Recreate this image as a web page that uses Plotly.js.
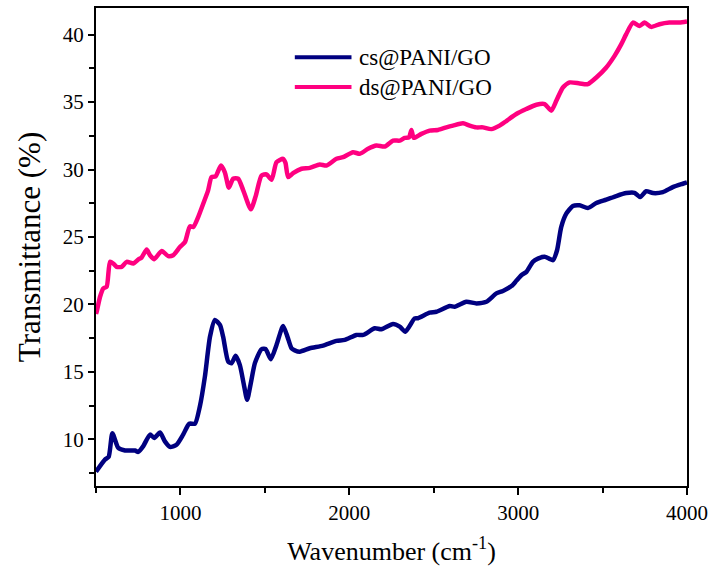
<!DOCTYPE html>
<html>
<head>
<meta charset="utf-8">
<script src="https://cdn.plot.ly/plotly-3.0.1.min.js"></script>
<style>html,body{margin:0;padding:0;background:#fff;}#chart{width:718px;height:576px;}</style>
</head>
<body>
<div id="chart"></div>
<script>
const seriesNames = ["cs@PANI/GO", "ds@PANI/GO"];
const seriesColors = ["#000080", "#ff0080"];
const csX = [500,553,575,597,632,672,731,750,780,820,845,879,908,938,977,1016,1052,1086,1115,1145,1175,1204,1234,1253,1283,1303,1327,1352,1378,1395,1417,1441,1480,1504,1535,1569,1608,1634,1658,1677,1707,1766,1845,1924,1973,2042,2082,2151,2190,2259,2299,2332,2387,2407,2476,2516,2595,2624,2693,2753,2812,2871,2910,2960,2989,3019,3049,3087,3117,3157,3186,3206,3230,3255,3285,3324,3364,3413,3463,3522,3581,3640,3689,3723,3758,3798,3857,3916,3975,4000];
const csY = [7.6,8.5,8.7,10.45,9.36,9.17,9.17,9.07,9.5,10.35,10.1,10.5,9.85,9.44,9.6,10.35,11.16,11.16,12.44,14.66,17.6,18.85,18.48,17.6,15.76,15.64,16.19,15.5,13.9,12.93,14.17,15.65,16.68,16.7,15.94,17.0,18.4,17.6,16.75,16.6,16.5,16.75,16.95,17.3,17.37,17.74,17.74,18.23,18.16,18.55,18.35,17.98,18.97,18.98,19.39,19.46,19.88,19.83,20.2,20.08,20.2,20.82,21.0,21.36,21.75,22.17,22.42,23.16,23.4,23.53,23.38,23.28,24.0,25.74,26.73,27.3,27.35,27.15,27.52,27.77,28.04,28.26,28.28,27.96,28.4,28.26,28.33,28.7,28.95,29.05];
const dsX = [500,504,524,543,563,583,602,622,652,682,721,750,770,800,820,845,889,928,957,997,1027,1056,1076,1105,1135,1164,1184,1208,1240,1263,1287,1312,1342,1372,1417,1447,1480,1510,1540,1569,1608,1622,1638,1667,1717,1766,1825,1865,1924,1963,2022,2062,2111,2161,2210,2259,2299,2328,2354,2368,2382,2427,2476,2525,2575,2614,2673,2713,2752,2792,2841,2890,2930,2989,3048,3108,3157,3196,3226,3265,3305,3364,3413,3463,3522,3571,3611,3640,3680,3719,3749,3788,3837,3896,3955,4000];
const dsY = [19.3,19.46,20.57,21.19,21.31,23.16,23.04,22.79,22.79,23.16,23.04,23.33,23.48,24.07,23.65,23.36,23.97,23.58,23.65,24.26,24.63,25.79,25.74,26.48,27.47,28.46,29.44,29.49,30.3,29.8,28.66,29.32,29.32,28.46,27.05,28.09,29.56,29.64,29.25,30.55,30.8,30.5,29.44,29.73,30.06,30.13,30.38,30.3,30.8,30.92,31.29,31.17,31.54,31.78,31.71,32.15,32.15,32.35,32.4,32.94,32.35,32.65,32.89,32.94,33.13,33.26,33.43,33.26,33.13,33.13,33.0,33.26,33.6,34.12,34.49,34.81,34.86,34.37,35.1,36.09,36.46,36.39,36.34,36.83,37.57,38.43,39.3,40.04,40.9,40.65,40.9,40.58,40.78,40.9,40.9,40.98];
const xTickVals = [1000, 2000, 3000, 4000];
const xMinorVals = [500, 1500, 2500, 3500];
const yTickVals = [10, 15, 20, 25, 30, 35, 40];
const yMinorVals = [7.5, 12.5, 17.5, 22.5, 27.5, 32.5, 37.5];

const font = "Liberation Serif, Times New Roman, serif";
const traces = [
  {x: csX, y: csY, name: seriesNames[0], mode: "lines", line: {color: seriesColors[0], width: 4.5, shape: "spline", smoothing: 0.6}},
  {x: dsX, y: dsY, name: seriesNames[1], mode: "lines", line: {color: seriesColors[1], width: 4.5, shape: "spline", smoothing: 0.6}}
];

// manual legend (long line samples like the reference)
const legX0 = 0.3364, legX1 = 0.4323, legTextX = 0.4424;
const legY = [0.897, 0.8347];
const shapes = seriesNames.map((n, i) => ({
  type: "line", xref: "paper", yref: "paper", x0: legX0, x1: legX1, y0: legY[i], y1: legY[i],
  line: {color: seriesColors[i], width: 4}
}));
const annotations = seriesNames.map((n, i) => ({
  xref: "paper", yref: "paper", x: legTextX, y: legY[i], xanchor: "left", yanchor: "middle",
  text: n, showarrow: false, font: {family: font, size: 23, color: "#000"}
}));

const layout = {
  width: 718, height: 576,
  margin: {l: 96, r: 30.5, t: 7.5, b: 89.5},
  paper_bgcolor: "#fff", plot_bgcolor: "#fff",
  font: {family: font, size: 21, color: "#000"},
  showlegend: false,
  shapes: shapes,
  annotations: annotations,
  xaxis: {
    range: [500, 4000], tickvals: xTickVals, ticks: "outside", ticklen: 7, tickwidth: 2, tickcolor: "#000",
    minor: {tickvals: xMinorVals, ticks: "outside", ticklen: 5, tickwidth: 2, tickcolor: "#000"},
    showline: true, linewidth: 2, linecolor: "#000", mirror: true, showgrid: false, zeroline: false,
    tickfont: {family: font, size: 21},
    title: {text: "Wavenumber (cm<sup>-1</sup>)", font: {family: font, size: 26}, standoff: 18}
  },
  yaxis: {
    range: [6.54, 41.98], tickvals: yTickVals, ticks: "outside", ticklen: 6, tickwidth: 2, tickcolor: "#000",
    minor: {tickvals: yMinorVals, ticks: "outside", ticklen: 5, tickwidth: 2, tickcolor: "#000"},
    showline: true, linewidth: 2, linecolor: "#000", mirror: true, showgrid: false, zeroline: false,
    tickfont: {family: font, size: 21},
    title: {text: "Transmittance (%)", font: {family: font, size: 31}, standoff: 13}
  }
};
Plotly.newPlot("chart", traces, layout, {displayModeBar: false, staticPlot: true});
</script>
</body>
</html>
